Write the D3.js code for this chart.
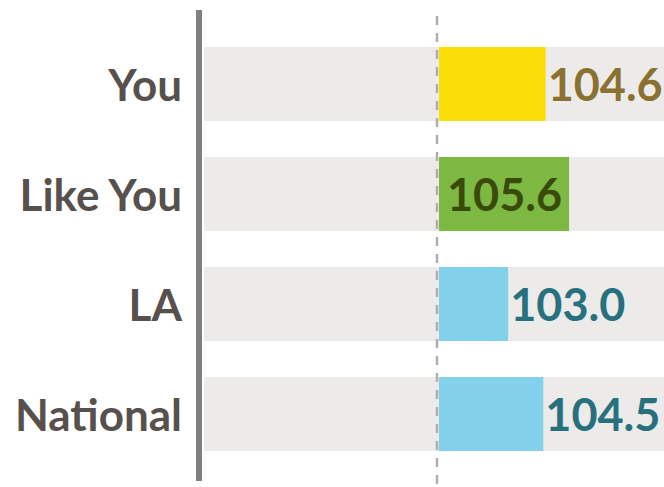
<html><head>
<meta charset="UTF-8">
<title>Index comparison</title>
<script src="https://cdn.jsdelivr.net/npm/d3@7"></script>
<style>
  body { margin: 0; background: #fff; }
  svg { display: block; font-family: Lato, "Open Sans", sans-serif; font-weight: bold; }
  .cat { fill: #57514d; font-size: 44px; }
  .val { font-size: 45px; }
</style>
</head>
<body>
<div id="chart"></div>
<script>
// data
const categories = ["You", "Like You", "LA", "National"];
const values = [104.6, 105.6, 103.0, 104.5];
const barColors = ["#fbdd0a", "#7db843", "#83d0eb", "#83d0eb"];
const labelColors = ["#8b7131", "#3a4a0a", "#27717f", "#27717f"];
const baseline = 100;

const W = 664, H = 487;

const svg = d3.select("#chart").append("svg")
    .attr("width", W)
    .attr("height", H);

const x = d3.scaleLinear().domain([90, 110]).range([204, 672]);
const y = d3.scaleBand().domain(categories).range([29, 469])
    .paddingInner(36 / 110).paddingOuter(18 / 110);

// gray background bands
svg.selectAll(".band")
    .data(categories)
  .enter().append("rect")
    .attr("class", "band")
    .attr("x", x(90))
    .attr("y", d => y(d))
    .attr("width", x(110) - x(90))
    .attr("height", y.bandwidth())
    .attr("fill", "#edebea");

// bars
svg.selectAll(".bar")
    .data(categories)
  .enter().append("rect")
    .attr("class", "bar")
    .attr("x", x(baseline) + 1)
    .attr("y", d => y(d))
    .attr("width", (d, i) => x(values[i]) - x(baseline) - 1)
    .attr("height", y.bandwidth())
    .attr("fill", (d, i) => barColors[i]);

// dashed reference line at 100
svg.append("line")
    .attr("x1", x(baseline) - 1).attr("x2", x(baseline) - 1)
    .attr("y1", 16).attr("y2", H)
    .attr("stroke", "#b3acac")
    .attr("stroke-width", 2.5)
    .attr("stroke-dasharray", "9,8");

// left axis line
svg.append("line")
    .attr("x1", 199).attr("x2", 199)
    .attr("y1", 10).attr("y2", 481)
    .attr("stroke", "#808080")
    .attr("stroke-width", 6);

// category labels
svg.selectAll(".cat")
    .data(categories)
  .enter().append("text")
    .attr("class", "cat")
    .attr("x", 182)
    .attr("y", d => y(d) + y.bandwidth() / 2 + 17)
    .attr("text-anchor", "end")
    .text(d => d);

// value labels: outside the bar, or inside at the end if it would run past the edge
svg.selectAll(".val")
    .data(categories)
  .enter().append("text")
    .attr("class", "val")
    .attr("y", d => y(d) + y.bandwidth() / 2 + 17)
    .attr("fill", (d, i) => labelColors[i])
    .text((d, i) => values[i].toFixed(1))
    .each(function(d, i) {
      const t = d3.select(this);
      const len = this.getComputedTextLength();
      const end = x(values[i]);
      if (end + 2 + len > W + 12) {
        t.attr("x", end - 7).attr("text-anchor", "end");
      } else {
        t.attr("x", end + 2).attr("text-anchor", "start");
      }
    });
</script>
</body></html>
